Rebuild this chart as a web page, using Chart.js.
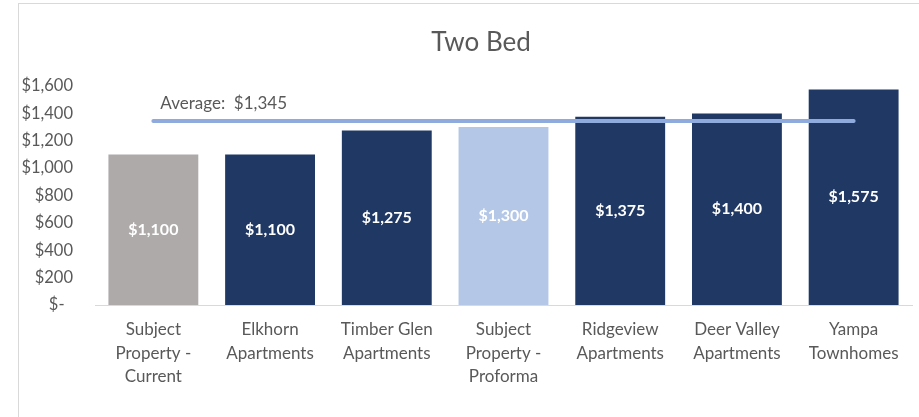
<!DOCTYPE html>
<html>
<head>
<meta charset="utf-8">
<script src="https://cdn.jsdelivr.net/npm/chart.js@4.4.0/dist/chart.umd.min.js"></script>
<style>
  body { margin: 0; background: #fff; }
  #frame { position: absolute; left: 18px; top: 3px; width: 1000px; height: 500px;
           border-left: 1px solid #d9d9d9; border-top: 1px solid #d9d9d9; }
  #wrap { position: absolute; left: 0; top: 0; width: 919px; height: 417px; }
</style>
</head>
<body>
<div id="frame"></div>
<div id="wrap"><canvas id="chart"></canvas></div>
<script>
const chartTitle = "Two Bed";
const categories = [
  ["Subject", "Property -", "Current"],
  ["Elkhorn", "Apartments"],
  ["Timber Glen", "Apartments"],
  ["Subject", "Property -", "Proforma"],
  ["Ridgeview", "Apartments"],
  ["Deer Valley", "Apartments"],
  ["Yampa", "Townhomes"]
];
const rents = [1100, 1100, 1275, 1300, 1375, 1400, 1575];
const averageRent = 1345;
const averageLine = [1345, 1345, 1345, 1345, 1345, 1345, 1345];
const barColors = ["#AEAAAA", "#203864", "#203864", "#B4C7E7", "#203864", "#203864", "#203864"];

const fmt = (v) => "$" + v.toLocaleString("en-US");
const FONT = "Lato, 'Open Sans', sans-serif";

const labelsPlugin = {
  id: "labels",
  afterDatasetsDraw(chart) {
    const ctx = chart.ctx;
    ctx.save();
    // title (the original chart frame is wider than the crop, so it sits right of centre)
    ctx.font = "26px " + FONT;
    ctx.fillStyle = "#595959";
    ctx.textAlign = "center";
    ctx.textBaseline = "middle";
    ctx.fillText(chartTitle, 481, 43);
    // values in the middle of each bar
    const bars = chart.getDatasetMeta(0).data;
    ctx.font = "bold 16px " + FONT;
    ctx.fillStyle = "#ffffff";
    bars.forEach((bar, i) => {
      ctx.fillText(fmt(rents[i]), bar.x, (bar.y + bar.base) / 2);
    });
    // average label above the line
    const pts = chart.getDatasetMeta(1).data;
    ctx.font = "17px " + FONT;
    ctx.fillStyle = "#595959";
    ctx.textAlign = "left";
    ctx.fillText("Average:  " + fmt(averageRent), pts[0].x + 7, pts[0].y - 17);
    ctx.restore();
  }
};

new Chart(document.getElementById("chart").getContext("2d"), {
  data: {
    labels: categories,
    datasets: [
      {
        type: "bar",
        data: rents,
        backgroundColor: barColors,
        barPercentage: 0.77,
        categoryPercentage: 1,
        order: 2
      },
      {
        type: "line",
        data: averageLine,
        borderColor: "#8FAADC",
        borderWidth: 4,
        borderCapStyle: "round",
        pointRadius: 0,
        order: 1
      }
    ]
  },
  options: {
    responsive: true,
    maintainAspectRatio: false,
    animation: false,
    layout: { padding: { left: 0, right: 7, top: 86, bottom: 16 } },
    plugins: {
      legend: { display: false },
      tooltip: { enabled: false },
      title: { display: false }
    },
    scales: {
      x: {
        grid: { display: false, drawTicks: false },
        border: { display: true, color: "#d9d9d9" },
        ticks: {
          color: "#595959",
          font: { family: FONT, size: 17, lineHeight: 1.41 },
          padding: 12,
          maxRotation: 0,
          autoSkip: false
        }
      },
      y: {
        min: 0,
        max: 1600,
        grid: { display: false, drawTicks: false },
        border: { display: false },
        afterFit(scale) { scale.width = 95; },
        ticks: {
          stepSize: 200,
          color: "#595959",
          font: { family: FONT, size: 16.5 },
          padding: 22,
          callback: (v) => (v === 0 ? "$-  " : fmt(v))
        }
      }
    }
  },
  plugins: [labelsPlugin]
});
</script>
</body>
</html>
